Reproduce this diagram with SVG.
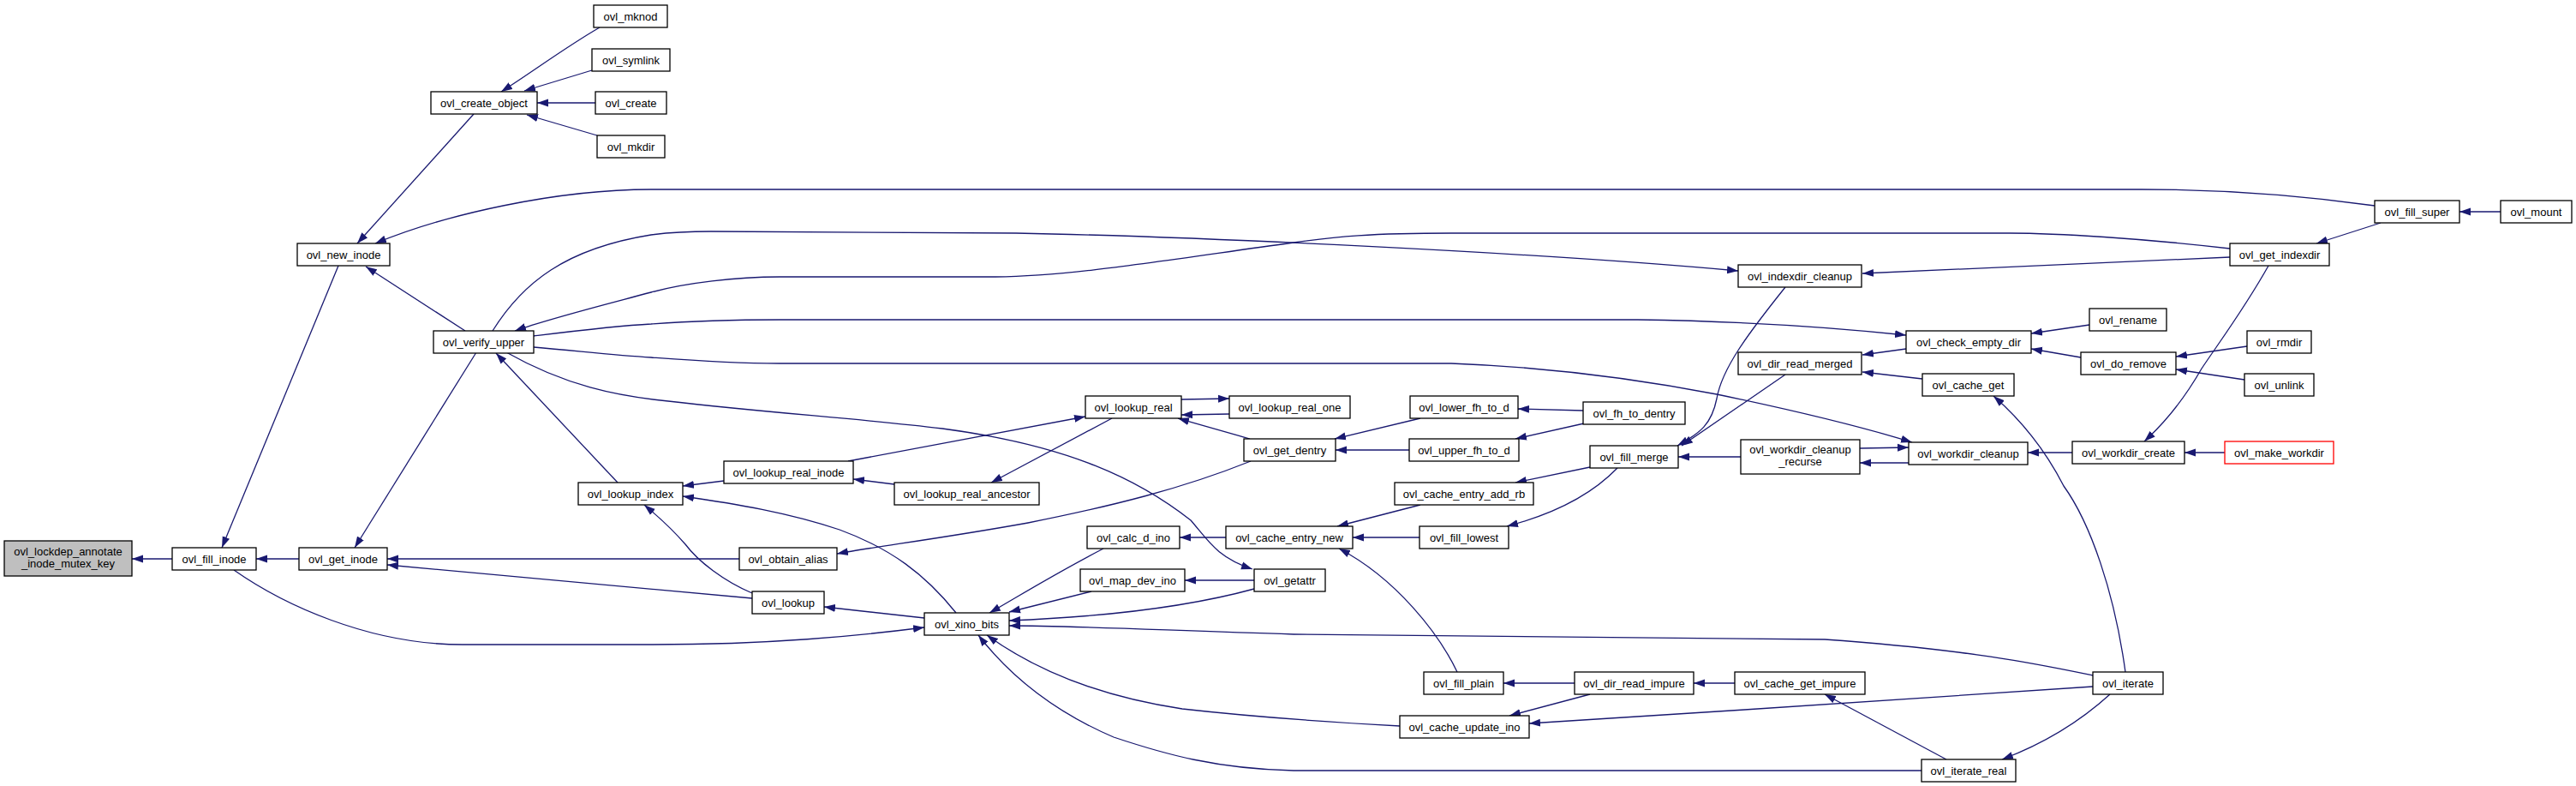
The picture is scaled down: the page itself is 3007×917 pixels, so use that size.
<svg xmlns="http://www.w3.org/2000/svg" width="3007" height="917" viewBox="0 0 3007 917">
<style>
.n rect{fill:#fff;stroke:#000;stroke-width:1.3}
.n text{font-family:"Liberation Sans",Arial,sans-serif;font-size:13px;text-anchor:middle;fill:#000}
#n_lockdep rect{fill:#bfbfbf}
#n_make_workdir rect{stroke:#ff0000}
.e path{fill:none;stroke:#191970;stroke-width:1.3;marker-end:url(#a)}
</style>
<defs>
<marker id="a" markerUnits="userSpaceOnUse" markerWidth="14" markerHeight="10" refX="13" refY="5" orient="auto">
<path d="M0,0.5 L13,5 L0,9.5 z" fill="#191970"/>
</marker>
</defs>
<rect width="3007" height="917" fill="#fff"/>
<g id="edges" class="e">
<path d="M201,652 L154,652"/>
<path d="M349,652 L299,652"/>
<path d="M395,310 L259,639"/>
<path d="M273,665 C330,705 430,752 540,752 L760,752 C900,752 1000,742 1079,732"/>
<path d="M553,133 L417,284"/>
<path d="M700,32 C660,55 620,85 585,107"/>
<path d="M691,82 L612,106"/>
<path d="M695,120 L627,120"/>
<path d="M697,158 L615,134"/>
<path d="M543,386 L427,311"/>
<path d="M2772,240 C2700,230 2600,221 2500,221 L760,221 C650,221 520,250 438,284"/>
<path d="M575,386 C610,330 660,290 760,274 C790,270 810,270 830,270 L1186,272 C1400,276 1800,295 2029,316"/>
<path d="M2603,290 C2500,278 2400,272 2346,272 L1694,272 C1600,272 1560,276 1510,283 C1350,305 1250,322 1162,323 L910,323 C860,323 800,330 760,341 C700,357 640,372 601,386"/>
<path d="M623,392 C680,385 720,380 760,378 C800,375 850,373 910,373 L1912,373 C2050,375 2150,383 2225,391"/>
<path d="M623,405 C680,410 720,415 760,417 C800,420 850,424 910,424 L1694,424 C1800,428 1900,440 2004,460 C2100,480 2180,500 2232,516"/>
<path d="M591,411 C660,450 720,462 780,468 C900,482 1000,488 1100,500 C1250,520 1330,560 1390,607 C1410,630 1420,650 1462,664"/>
<path d="M556,411 L414,639"/>
<path d="M721,563 L579,412"/>
<path d="M845,561 L797,567"/>
<path d="M1044,565 L996,559"/>
<path d="M990,538 L1267,486"/>
<path d="M1298,488 L1157,563"/>
<path d="M1379,466 L1435,465"/>
<path d="M1435,483 L1379,484"/>
<path d="M1459,512 L1375,488"/>
<path d="M1460,538 C1380,570 1300,590 1200,610 C1100,628 1020,638 977,646"/>
<path d="M1116,715 C1080,670 1040,640 980,618 C920,598 860,588 797,579"/>
<path d="M1079,721 L962,708"/>
<path d="M878,698 L452,659"/>
<path d="M878,692 C845,678 815,655 800,635 C780,612 765,600 752,589"/>
<path d="M863,652 L452,652"/>
<path d="M1288,640 C1230,670 1190,695 1155,715"/>
<path d="M1274,690 L1178,714"/>
<path d="M1464,677 L1383,677"/>
<path d="M1464,687 C1380,710 1280,720 1178,724"/>
<path d="M1431,627 L1377,627"/>
<path d="M1658,488 L1558,512"/>
<path d="M1645,525 L1559,525"/>
<path d="M1848,479 L1772,477"/>
<path d="M1849,494 L1769,512"/>
<path d="M1856,545 L1769,563"/>
<path d="M1888,546 C1860,575 1820,598 1759,614"/>
<path d="M2032,533 L1959,533"/>
<path d="M1658,589 L1561,614"/>
<path d="M1657,627 L1579,627"/>
<path d="M1701,784 C1680,740 1630,675 1563,640"/>
<path d="M1838,797 L1755,797"/>
<path d="M2025,797 L1977,797"/>
<path d="M1856,810 L1762,835"/>
<path d="M1634,847 C1560,843 1460,836 1380,827 C1300,815 1220,790 1152,741"/>
<path d="M2243,899 L1510,899 C1420,897 1360,880 1300,860 C1230,830 1180,790 1142,741"/>
<path d="M2443,788 C2380,775 2300,758 2130,746 L1510,740 C1350,735 1250,730 1178,730"/>
<path d="M2443,801 C2300,812 2000,830 1785,844"/>
<path d="M2463,810 C2430,840 2390,866 2337,886"/>
<path d="M2272,886 L2130,810"/>
<path d="M2481,784 C2468,690 2440,610 2409,567 C2390,530 2365,495 2327,462"/>
<path d="M2084,335 C2040,390 2010,430 2004,465 C1998,495 1985,505 1958,520"/>
<path d="M2084,437 L1963,520"/>
<path d="M2603,300 L2174,319"/>
<path d="M2225,407 L2174,414"/>
<path d="M2244,442 L2174,434"/>
<path d="M2779,260 L2704,284"/>
<path d="M2919,247 L2871,247"/>
<path d="M2439,379 L2371,389"/>
<path d="M2429,417 L2371,407"/>
<path d="M2623,404 L2540,416"/>
<path d="M2620,443 L2540,431"/>
<path d="M2648,310 C2620,360 2590,400 2570,430 C2550,465 2525,495 2503,515"/>
<path d="M2597,528 L2550,528"/>
<path d="M2419,528 L2367,528"/>
<path d="M2171,523 L2228,522"/>
<path d="M2228,540 L2171,540"/>
</g>
<g id="n_lockdep" class="n"><rect x="5" y="631" width="149" height="41"/><text x="79.5" y="648">ovl_lockdep_annotate</text><text x="79.5" y="662">_inode_mutex_key</text></g>
<g id="n_fill_inode" class="n"><rect x="201" y="639" width="98" height="26"/><text x="250" y="656.5">ovl_fill_inode</text></g>
<g id="n_get_inode" class="n"><rect x="349" y="639" width="103" height="26"/><text x="400.5" y="656.5">ovl_get_inode</text></g>
<g id="n_new_inode" class="n"><rect x="347" y="284" width="108" height="26"/><text x="401" y="301.5">ovl_new_inode</text></g>
<g id="n_create_object" class="n"><rect x="503" y="107" width="124" height="26"/><text x="565" y="124.5">ovl_create_object</text></g>
<g id="n_mknod" class="n"><rect x="693" y="6" width="86" height="26"/><text x="736" y="23.5">ovl_mknod</text></g>
<g id="n_symlink" class="n"><rect x="691" y="57" width="91" height="26"/><text x="736.5" y="74.5">ovl_symlink</text></g>
<g id="n_create" class="n"><rect x="695" y="107" width="83" height="26"/><text x="736.5" y="124.5">ovl_create</text></g>
<g id="n_mkdir" class="n"><rect x="697" y="158" width="79" height="26"/><text x="736.5" y="175.5">ovl_mkdir</text></g>
<g id="n_verify_upper" class="n"><rect x="506" y="386" width="117" height="26"/><text x="564.5" y="403.5">ovl_verify_upper</text></g>
<g id="n_lookup_index" class="n"><rect x="675" y="563" width="122" height="26"/><text x="736" y="580.5">ovl_lookup_index</text></g>
<g id="n_lookup_real_inode" class="n"><rect x="845" y="538" width="151" height="26"/><text x="920.5" y="555.5">ovl_lookup_real_inode</text></g>
<g id="n_lookup_real_ancestor" class="n"><rect x="1044" y="563" width="169" height="26"/><text x="1128.5" y="580.5">ovl_lookup_real_ancestor</text></g>
<g id="n_lookup_real" class="n"><rect x="1267" y="462" width="112" height="26"/><text x="1323" y="479.5">ovl_lookup_real</text></g>
<g id="n_lookup_real_one" class="n"><rect x="1435" y="462" width="141" height="26"/><text x="1505.5" y="479.5">ovl_lookup_real_one</text></g>
<g id="n_get_dentry" class="n"><rect x="1452" y="512" width="107" height="26"/><text x="1505.5" y="529.5">ovl_get_dentry</text></g>
<g id="n_obtain_alias" class="n"><rect x="863" y="639" width="114" height="26"/><text x="920" y="656.5">ovl_obtain_alias</text></g>
<g id="n_lookup" class="n"><rect x="878" y="690" width="84" height="26"/><text x="920" y="707.5">ovl_lookup</text></g>
<g id="n_xino_bits" class="n"><rect x="1079" y="715" width="99" height="26"/><text x="1128.5" y="732.5">ovl_xino_bits</text></g>
<g id="n_calc_d_ino" class="n"><rect x="1269" y="614" width="108" height="26"/><text x="1323" y="631.5">ovl_calc_d_ino</text></g>
<g id="n_cache_entry_new" class="n"><rect x="1431" y="614" width="148" height="26"/><text x="1505" y="631.5">ovl_cache_entry_new</text></g>
<g id="n_map_dev_ino" class="n"><rect x="1261" y="664" width="122" height="26"/><text x="1322" y="681.5">ovl_map_dev_ino</text></g>
<g id="n_getattr" class="n"><rect x="1464" y="664" width="83" height="26"/><text x="1505.5" y="681.5">ovl_getattr</text></g>
<g id="n_lower_fh_to_d" class="n"><rect x="1646" y="462" width="126" height="26"/><text x="1709" y="479.5">ovl_lower_fh_to_d</text></g>
<g id="n_fh_to_dentry" class="n"><rect x="1848" y="469" width="119" height="26"/><text x="1907.5" y="486.5">ovl_fh_to_dentry</text></g>
<g id="n_upper_fh_to_d" class="n"><rect x="1645" y="512" width="128" height="26"/><text x="1709" y="529.5">ovl_upper_fh_to_d</text></g>
<g id="n_fill_merge" class="n"><rect x="1856" y="520" width="103" height="26"/><text x="1907.5" y="537.5">ovl_fill_merge</text></g>
<g id="n_workdir_cleanup_recurse" class="n"><rect x="2032" y="513" width="139" height="40"/><text x="2101.5" y="529">ovl_workdir_cleanup</text><text x="2101.5" y="543">_recurse</text></g>
<g id="n_workdir_cleanup" class="n"><rect x="2228" y="516" width="139" height="26"/><text x="2297.5" y="533.5">ovl_workdir_cleanup</text></g>
<g id="n_cache_entry_add_rb" class="n"><rect x="1628" y="563" width="162" height="26"/><text x="1709" y="580.5">ovl_cache_entry_add_rb</text></g>
<g id="n_fill_lowest" class="n"><rect x="1657" y="614" width="104" height="26"/><text x="1709" y="631.5">ovl_fill_lowest</text></g>
<g id="n_fill_plain" class="n"><rect x="1662" y="784" width="93" height="26"/><text x="1708.5" y="801.5">ovl_fill_plain</text></g>
<g id="n_dir_read_impure" class="n"><rect x="1838" y="784" width="139" height="26"/><text x="1907.5" y="801.5">ovl_dir_read_impure</text></g>
<g id="n_cache_get_impure" class="n"><rect x="2025" y="784" width="152" height="26"/><text x="2101" y="801.5">ovl_cache_get_impure</text></g>
<g id="n_cache_update_ino" class="n"><rect x="1634" y="835" width="151" height="26"/><text x="1709.5" y="852.5">ovl_cache_update_ino</text></g>
<g id="n_iterate_real" class="n"><rect x="2243" y="886" width="110" height="26"/><text x="2298" y="903.5">ovl_iterate_real</text></g>
<g id="n_iterate" class="n"><rect x="2443" y="784" width="82" height="26"/><text x="2484" y="801.5">ovl_iterate</text></g>
<g id="n_indexdir_cleanup" class="n"><rect x="2029" y="309" width="144" height="26"/><text x="2101" y="326.5">ovl_indexdir_cleanup</text></g>
<g id="n_check_empty_dir" class="n"><rect x="2225" y="386" width="146" height="26"/><text x="2298" y="403.5">ovl_check_empty_dir</text></g>
<g id="n_dir_read_merged" class="n"><rect x="2029" y="411" width="144" height="26"/><text x="2101" y="428.5">ovl_dir_read_merged</text></g>
<g id="n_cache_get" class="n"><rect x="2244" y="436" width="107" height="26"/><text x="2297.5" y="453.5">ovl_cache_get</text></g>
<g id="n_fill_super" class="n"><rect x="2772" y="234" width="99" height="26"/><text x="2821.5" y="251.5">ovl_fill_super</text></g>
<g id="n_mount" class="n"><rect x="2919" y="234" width="83" height="26"/><text x="2960.5" y="251.5">ovl_mount</text></g>
<g id="n_get_indexdir" class="n"><rect x="2603" y="284" width="116" height="26"/><text x="2661" y="301.5">ovl_get_indexdir</text></g>
<g id="n_rename" class="n"><rect x="2439" y="360" width="90" height="26"/><text x="2484" y="377.5">ovl_rename</text></g>
<g id="n_do_remove" class="n"><rect x="2429" y="411" width="111" height="26"/><text x="2484.5" y="428.5">ovl_do_remove</text></g>
<g id="n_rmdir" class="n"><rect x="2623" y="386" width="75" height="26"/><text x="2660.5" y="403.5">ovl_rmdir</text></g>
<g id="n_unlink" class="n"><rect x="2620" y="436" width="81" height="26"/><text x="2660.5" y="453.5">ovl_unlink</text></g>
<g id="n_workdir_create" class="n"><rect x="2419" y="515" width="131" height="26"/><text x="2484.5" y="532.5">ovl_workdir_create</text></g>
<g id="n_make_workdir" class="n"><rect x="2597" y="515" width="127" height="26"/><text x="2660.5" y="532.5">ovl_make_workdir</text></g>
</svg>
